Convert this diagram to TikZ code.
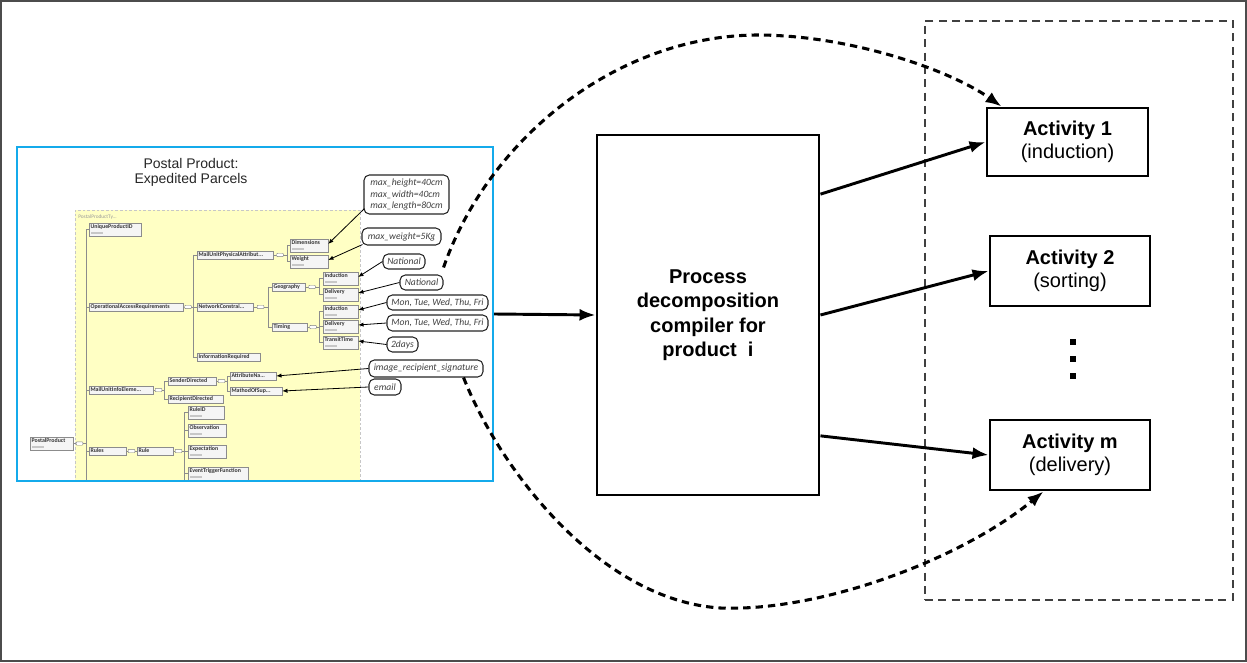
\documentclass[tikz,border=0pt]{standalone}
\usepackage{fontspec}
\setmainfont{Liberation Sans}
\newfontfamily\calfont{Carlito}
\usetikzlibrary{calc,fit,arrows.meta,shadows}
\definecolor{cyanblue}{RGB}{20,170,235}
\definecolor{paleyellow}{RGB}{255,255,196}
\newdimen\tpx \tpx=0.75pt
% tree elements of the product schema
\newcommand\treenode[5]{\node[tnode,anchor=west] (#1) at (#2,#3) {\makebox[#4\tpx][l]{#5}};}
\newcommand\treeleaf[5]{\node[tleaf,anchor=north west] (#1) at (#2,#3) {\makebox[#4\tpx][l]{#5}};}
\newcommand\seqlink[3]{\draw[tline] (#1.east) -- (#2 |- #1.east) node[seqsym,pos=0.5] (#3) {};}
\newcommand\stub[2]{\draw[tline] (#1 |- #2.west) -- (#2.west);}
% sized box: name, style, centre x, centre y, width px, height px, text
\newcommand\sizedbox[7]{\node[#2, minimum width=#5\tpx, minimum height=#6\tpx] (#1) at (#3,#4) {#7};}
\begin{document}
\begin{tikzpicture}[x=0.75pt,y=-0.75pt,
  frame/.style={draw=black!70, line width=1.5pt},
  bluebox/.style={draw=cyanblue, line width=1.8pt, inner sep=0pt},
  yellowarea/.style={fill=paleyellow, draw=black!22, dash pattern=on 2pt off 1.5pt, line width=0.4pt, inner sep=0pt},
  tbase/.style={draw=black!45, line width=0.35pt, fill=black!4, inner xsep=1pt, inner ysep=0.7pt,
    font=\calfont\bfseries\fontsize{4.4}{5}\selectfont, text=black!80,
    drop shadow={shadow xshift=0.6pt,shadow yshift=-0.6pt,fill=black!40,opacity=0.6}},
  tnode/.style={tbase, text height=3.6pt, text depth=1.2pt},
  tleaf/.style={tbase, text height=3.6pt, text depth=4.4pt,
    path picture={\fill[black!22] ([xshift=1.2pt,yshift=1.3pt]path picture bounding box.south west) rectangle ++(9pt,1.2pt);}},
  seqsym/.style={draw=black!50, fill=white, rounded corners=0.6pt, minimum width=5pt, minimum height=2.6pt, inner sep=0pt},
  tline/.style={draw=black!45, line width=0.35pt},
  note/.style={draw=black!85, line width=0.8pt, rounded corners=4pt, fill=white, inner sep=0pt,
    font=\calfont\itshape\fontsize{7.2}{8.3}\selectfont, text=black!75},
  pointer/.style={draw=black, line width=0.6pt, -{Latex[length=4pt,width=3.2pt]}},
  bigbox/.style={draw, line width=2.2pt, inner sep=0pt, align=center, font=\bfseries\fontsize{15}{18.4}\selectfont},
  actbox/.style={draw, line width=2.2pt, inner sep=0pt, align=center, font=\fontsize{15}{17.3}\selectfont},
  flow/.style={line width=2.2pt, -{Latex[length=12pt,width=9pt]}},
  loopline/.style={line width=2.3pt, dash pattern=on 5.5pt off 3.8pt, -{Latex[length=12pt,width=9pt]}},
  dashframe/.style={draw=black!75, line width=0.8pt, dash pattern=on 6pt off 4pt, inner sep=0pt}
]
\useasboundingbox (0,0) rectangle (1247,663);
\draw[frame] (1,1) rectangle (1246,661);

% ---------- product schema panel ----------
\node[yellowarea, fit={(75,210) (360,481)}] (Y) {};
\node[anchor=west, font=\calfont\fontsize{4}{4}\selectfont, text=black!40, inner sep=0pt] (ylab) at (78,217) {PostalProductTy...};

\coordinate (s0) at (86,481);
\coordinate (s1) at (193,0);
\coordinate (s2) at (287,0);
\coordinate (s3) at (268,0);
\coordinate (s4) at (319,0);
\coordinate (s5) at (319,0);
\coordinate (s6) at (164,0);
\coordinate (s7) at (227,0);
\coordinate (s8) at (184,481);

\treeleaf{pp}{30}{437}{40}{PostalProduct}
\treeleaf{uid}{89}{223}{49}{UniqueProductID}
\treenode{opr}{89}{307}{91}{OperationalAccessRequirements}
\treenode{mui}{89}{390}{61}{MailUnitInfoEleme...}
\treenode{rules}{89}{451}{34}{Rules}
\treenode{mup}{197}{255}{73}{MailUnitPhysicalAttribut...}
\treenode{net}{197}{307}{53}{NetworkConstrai...}
\treenode{inf}{197}{357}{60}{InformationRequired}
\treeleaf{dim}{290}{239}{35}{Dimensions}
\treeleaf{wgt}{290}{255}{35}{Weight}
\treenode{geo}{272}{287}{30}{Geography}
\treenode{tim}{272}{327}{32}{Timing}
\treeleaf{gi}{323}{272}{32}{Induction}
\treeleaf{gd}{323}{288}{32}{Delivery}
\treeleaf{ti}{323}{305}{32}{Induction}
\treeleaf{td}{323}{320}{32}{Delivery}
\treeleaf{tt}{323}{336}{32}{TransitTime}
\treenode{snd}{168}{381}{45}{SenderDirected}
\treenode{rcp}{168}{399}{52}{RecipientDirected}
\treenode{att}{230}{376}{43}{AttributeNa...}
\treenode{mth}{230}{391}{49}{MathodOfSup...}
\treenode{rule}{137}{451}{33}{Rule}
\treeleaf{rid}{188}{406}{33}{RuleID}
\treeleaf{obs}{188}{424}{35}{Observation}
\treeleaf{exp}{188}{445}{35}{Expectation}
\treeleaf{etf}{188}{467}{57}{EventTriggerFunction}

% spines and stubs
\draw[tline] (s0 |- uid.west) -- (s0);
\stub{s0}{uid} \stub{s0}{opr} \stub{s0}{mui} \stub{s0}{rules}
\draw[tline] (s1 |- mup.west) -- (s1 |- inf.west);
\stub{s1}{mup} \stub{s1}{net} \stub{s1}{inf}
\draw[tline] (s2 |- dim.west) -- (s2 |- wgt.west);
\stub{s2}{dim} \stub{s2}{wgt}
\draw[tline] (s3 |- geo.west) -- (s3 |- tim.west);
\stub{s3}{geo} \stub{s3}{tim}
\draw[tline] (s4 |- gi.west) -- (s4 |- gd.west);
\stub{s4}{gi} \stub{s4}{gd}
\draw[tline] (s5 |- ti.west) -- (s5 |- tt.west);
\stub{s5}{ti} \stub{s5}{td} \stub{s5}{tt}
\draw[tline] (s6 |- snd.west) -- (s6 |- rcp.west);
\stub{s6}{snd} \stub{s6}{rcp}
\draw[tline] (s7 |- att.west) -- (s7 |- mth.west);
\stub{s7}{att} \stub{s7}{mth}
\draw[tline] (s8 |- rid.west) -- (s8);
\stub{s8}{rid} \stub{s8}{obs} \stub{s8}{exp} \stub{s8}{etf}

\seqlink{pp}{s0}{q0}
\seqlink{opr}{s1}{q1}
\seqlink{mup}{s2}{q2}
\seqlink{net}{s3}{q3}
\seqlink{geo}{s4}{q4}
\seqlink{tim}{s5}{q5}
\seqlink{mui}{s6}{q6}
\seqlink{snd}{s7}{q7}
\draw[tline] (rules.east) -- (rule.west) node[seqsym,pos=0.5] (q8) {};
\seqlink{rule}{s8}{q9}

\node[bluebox, fit={(17,147) (493,481)}] (B) {};
\node[align=center, font=\fontsize{10.5}{11.3}\selectfont, text=black!85, inner sep=0pt] (ttl) at (191,172) {Postal Product:\\Expedited Parcels};

% value annotations
\sizedbox{a1}{note,align=left}{406.5}{194.5}{85}{39}{max\_height=40cm\\max\_width=40cm\\max\_length=80cm}
\sizedbox{a2}{note}{401.5}{236.5}{79}{17}{max\_weight=5Kg}
\sizedbox{n1}{note}{404}{261.5}{42}{15}{National}
\sizedbox{n2}{note}{421.5}{282.5}{43}{15}{National}
\sizedbox{m1}{note}{437.5}{302.5}{101}{15}{Mon, Tue, Wed, Thu, Fri}
\sizedbox{m2}{note}{437.5}{323}{101}{16}{Mon, Tue, Wed, Thu, Fri}
\sizedbox{d2}{note}{402.5}{344.5}{31}{15}{2days}
\sizedbox{sg}{note}{426}{368.5}{114}{17}{image\_recipient\_signature}
\sizedbox{em}{note}{385}{387}{32}{16}{email}

\draw[pointer] ($(a1.south west)+(1,-6)$) -- ($(dim.north east)+(0,5)$);
\draw[pointer] ($(a2.south west)+(1,-1)$) -- ($(wgt.north east)+(0,5)$);
\draw[pointer] (n1.west) -- ($(gi.north east)+(0,5)$);
\draw[pointer] (n2.west) -- ($(gd.north east)+(0,5)$);
\draw[pointer] (m1.west) -- ($(ti.north east)+(0,5)$);
\draw[pointer] (m2.west) -- ($(td.north east)+(0,5)$);
\draw[pointer] (d2.west) -- ($(tt.north east)+(0,5)$);
\draw[pointer] (sg.west) -- (att.east);
\draw[pointer] (em.west) -- (mth.east);

% ---------- compiler and activities ----------
\node[dashframe, fit={(925,21) (1233,600)}] (R) {};
\sizedbox{P}{bigbox}{708}{315}{222}{360}{Process\\decomposition\\compiler for\\product\ \ i}
\sizedbox{A1}{actbox}{1067.5}{142}{161}{68}{\textbf{Activity 1}\\(induction)}
\sizedbox{A2}{actbox}{1070}{271}{160}{70}{\textbf{Activity 2}\\(sorting)}
\sizedbox{Am}{actbox}{1070}{455}{160}{70}{\textbf{Activity m}\\(delivery)}

\fill (1070,339) rectangle (1076,345);
\fill (1070,356) rectangle (1076,362);
\fill (1070,373) rectangle (1076,379);

\draw[flow] (B.east) -- (P.west);
\draw[flow] ($(P.north east)!0.167!(P.south east)$) -- (A1.west);
\draw[flow] (P.east) -- (A2.west);
\draw[flow] ($(P.north east)!0.833!(P.south east)$) -- (Am.west);

\draw[loopline] ($(n2.north east)+(0,-7)$) .. controls (488,140) and (615,36) .. (757,35)
  .. controls (850,35) and (950,70) .. ($(A1.north west)+(16,0)$);
\draw[loopline] ($(sg.south east)+(-20,0)$) .. controls (500,470) and (600,600) .. (720,608)
  .. controls (820,612) and (960,560) .. ($(Am.south west)+(55,0)$);
\end{tikzpicture}
\end{document}
